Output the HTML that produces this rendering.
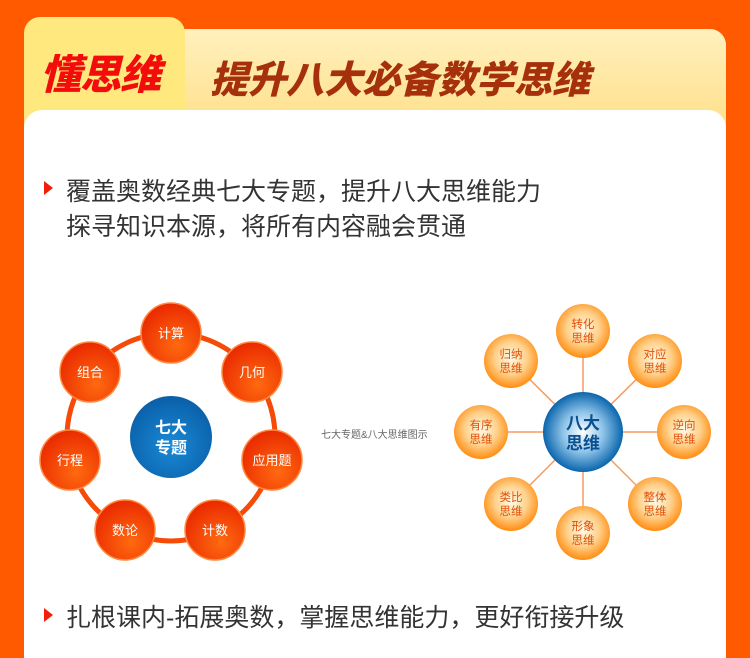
<!DOCTYPE html>
<html><head><meta charset="utf-8"><style>
html,body{margin:0;width:750px;height:658px;overflow:hidden}
body{background:#ff5a00;font-family:"Liberation Sans","Noto Sans CJK SC",sans-serif;position:relative}
.hdr{position:absolute;left:24px;top:29px;width:702px;height:100px;border-radius:16px 16px 0 0;background:linear-gradient(180deg,#fff0bd,#ffe08a)}
.tab{position:absolute;left:24px;top:17px;width:161px;height:100px;border-radius:16px 16px 0 0;background:#ffe97f}
.tab span{position:absolute;left:16px;top:24px;font-size:41px;font-weight:900;color:#f20c0c;font-style:italic;letter-spacing:-1px}
.title{position:absolute;left:210px;top:49px;font-size:38px;font-weight:900;color:#a6300c;font-style:italic}
.panel{position:absolute;left:24px;top:110px;width:702px;height:548px;background:#fff;border-radius:18px 18px 0 0}
.t{position:absolute;left:66px;font-size:25px;color:#333;white-space:nowrap}
.ar{position:absolute;left:44px;width:0;height:0;border-left:9px solid #f21d0a;border-top:7px solid transparent;border-bottom:7px solid transparent}
.cap{position:absolute;left:321px;top:426px;font-size:10px;color:#666}
</style></head><body>
<div class="hdr"></div>
<div class="tab"><span>懂思维</span></div>
<div class="title">提升八大必备数学思维</div>
<div class="panel"></div>
<div class="ar" style="top:181px"></div>
<div class="t" style="top:172px">覆盖奥数经典七大专题，提升八大思维能力</div>
<div class="t" style="top:207px">探寻知识本源，将所有内容融会贯通</div>
<div class="ar" style="top:608px"></div>
<div class="t" style="top:598px">扎根课内-拓展奥数，掌握思维能力，更好衔接升级</div>
<div class="cap">七大专题&amp;八大思维图示</div>
<svg width="750" height="658" style="position:absolute;left:0;top:0" font-family="Liberation Sans,Noto Sans CJK SC,sans-serif">
<defs>
<radialGradient id="ro" cx="0.6" cy="0.7" r="0.7"><stop offset="0" stop-color="#ff6a10"/><stop offset="1" stop-color="#ea2a00"/></radialGradient>
<radialGradient id="bl" cx="0.5" cy="0.6" r="0.6"><stop offset="0" stop-color="#1a8ad6"/><stop offset="1" stop-color="#0a5fa8"/></radialGradient>
<radialGradient id="yo" cx="0.5" cy="0.45" r="0.55"><stop offset="0" stop-color="#fffbe8"/><stop offset="0.55" stop-color="#ffd08a"/><stop offset="1" stop-color="#ff8c10"/></radialGradient>
<radialGradient id="b2" cx="0.5" cy="0.5" r="0.5"><stop offset="0" stop-color="#ffffff"/><stop offset="0.5" stop-color="#8fc4e8"/><stop offset="1" stop-color="#0a65ad"/></radialGradient>
</defs>
<circle cx="171" cy="437" r="104" fill="none" stroke="#f54a08" stroke-width="5"/>
<g fill="url(#ro)" stroke="#ff8a40" stroke-width="1.5">
<circle cx="171" cy="333" r="30"/><circle cx="252" cy="372" r="30"/><circle cx="272" cy="460" r="30"/><circle cx="215" cy="530" r="30"/><circle cx="125" cy="530" r="30"/><circle cx="70" cy="460" r="30"/><circle cx="90" cy="372" r="30"/>
</g>
<circle cx="171" cy="437" r="41" fill="url(#bl)"/>
<g fill="#fff" font-size="13" text-anchor="middle">
<text x="171" y="338">计算</text><text x="252" y="377">几何</text><text x="272" y="465">应用题</text><text x="215" y="535">计数</text><text x="125" y="535">数论</text><text x="70" y="465">行程</text><text x="90" y="377">组合</text>
<text x="171" y="433" font-size="16" font-weight="bold">七大</text><text x="171" y="453" font-size="16" font-weight="bold">专题</text>
</g>
<g stroke="#f59a60" stroke-width="1.5">
<line x1="583" y1="432" x2="583" y2="331"/><line x1="583" y1="432" x2="655" y2="361"/><line x1="583" y1="432" x2="684" y2="432"/><line x1="583" y1="432" x2="655" y2="504"/><line x1="583" y1="432" x2="583" y2="533"/><line x1="583" y1="432" x2="511" y2="504"/><line x1="583" y1="432" x2="481" y2="432"/><line x1="583" y1="432" x2="511" y2="361"/>
</g>
<g fill="url(#yo)">
<circle cx="583" cy="331" r="27"/><circle cx="655" cy="361" r="27"/><circle cx="684" cy="432" r="27"/><circle cx="655" cy="504" r="27"/><circle cx="583" cy="533" r="27"/><circle cx="511" cy="504" r="27"/><circle cx="481" cy="432" r="27"/><circle cx="511" cy="361" r="27"/>
</g>
<circle cx="583" cy="432" r="40" fill="url(#b2)"/>
<g fill="#e0500a" font-size="11.5" text-anchor="middle">
<text x="583" y="328">转化</text><text x="583" y="342">思维</text>
<text x="655" y="358">对应</text><text x="655" y="372">思维</text>
<text x="684" y="429">逆向</text><text x="684" y="443">思维</text>
<text x="655" y="501">整体</text><text x="655" y="515">思维</text>
<text x="583" y="530">形象</text><text x="583" y="544">思维</text>
<text x="511" y="501">类比</text><text x="511" y="515">思维</text>
<text x="481" y="429">有序</text><text x="481" y="443">思维</text>
<text x="511" y="358">归纳</text><text x="511" y="372">思维</text>
</g>
<g fill="#0a4f90" font-size="17" font-weight="bold" text-anchor="middle">
<text x="583" y="429">八大</text><text x="583" y="449">思维</text>
</g>
</svg>
</body></html>
